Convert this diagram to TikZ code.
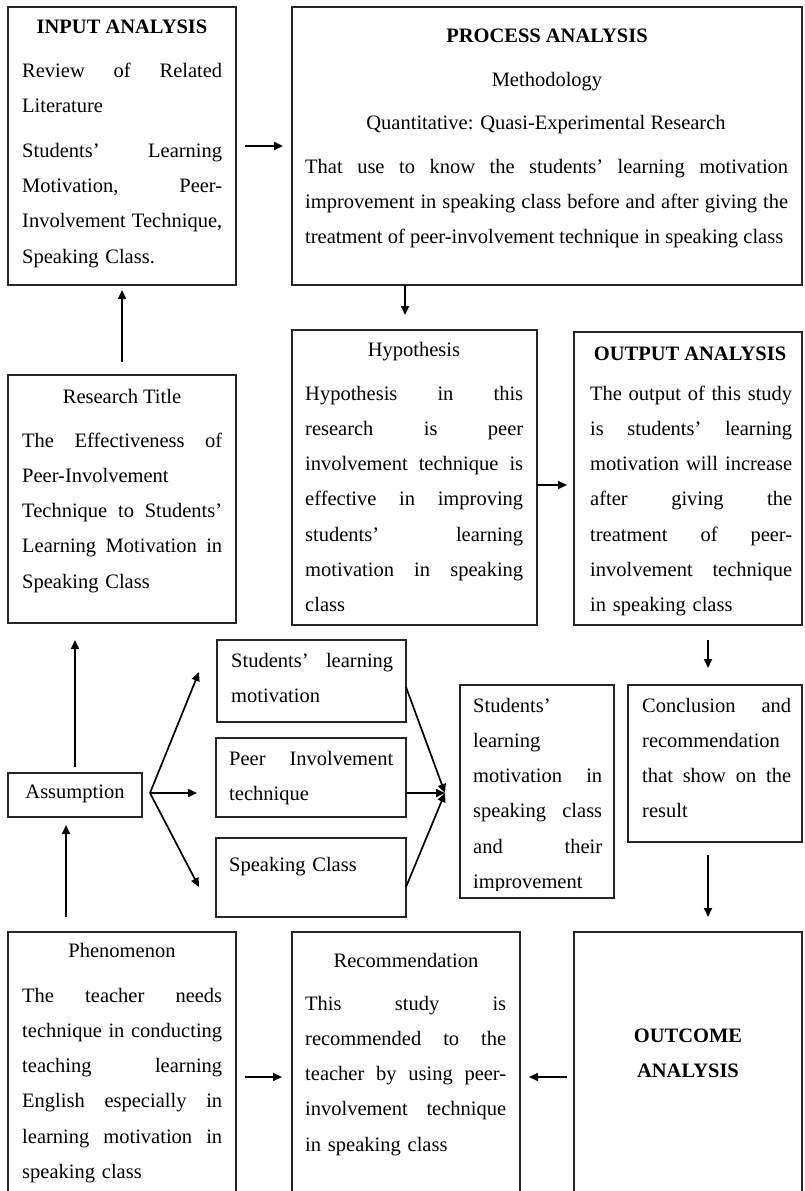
\documentclass[tikz,border=0pt]{standalone}
\usepackage{fontspec}
\setmainfont{Liberation Serif}
\usetikzlibrary{arrows.meta}
\newcommand{\jl}[1]{\leavevmode\hbox to \jw{\spaceskip=0.25em plus 1fil minus 0.08em\relax #1}\\}
\newcommand{\jw}{0pt}
\tikzset{
  box/.style={draw=black!85, line width=1.3pt, anchor=north west, inner sep=0pt, outer sep=0pt},
  arr/.style={line width=1.7pt, -{Triangle[length=9pt,width=8pt]}},
  ttl/.style={anchor=base, inner sep=0pt, font=\fontsize{20.5}{35.3}\selectfont\bfseries},
  sub/.style={anchor=base, inner sep=0pt, font=\fontsize{20.5}{35.3}\selectfont},
  body/.style={anchor=base west, inner sep=0pt, text width=#1, execute at begin node={\renewcommand{\jw}{#1}}, font=\fontsize{20.5}{35.3}\selectfont}
}
\begin{document}
\begin{tikzpicture}[x=1pt,y=-1pt]
\useasboundingbox (0,0) rectangle (805,1191);
\clip (0,0) rectangle (805,1191);
\fill[white] (0,0) rectangle (805,1191);
% boxes
\node[box, minimum width=228pt, minimum height=278pt] (input) at (8,7) {};
\node[box, minimum width=510pt, minimum height=278pt] (process) at (292,7) {};
\node[box, minimum width=228pt, minimum height=248pt] (rtitle) at (8,375) {};
\node[box, minimum width=245pt, minimum height=295pt] (hyp) at (292,330) {};
\node[box, minimum width=228pt, minimum height=293pt] (output) at (574,332) {};
\node[box, minimum width=134pt, minimum height=44pt] (assump) at (8,773) {};
\node[box, minimum width=189pt, minimum height=82pt] (slm) at (217,640) {};
\node[box, minimum width=190pt, minimum height=79pt] (pit) at (216,738) {};
\node[box, minimum width=190pt, minimum height=79pt] (sc) at (216,838) {};
\node[box, minimum width=154pt, minimum height=213pt] (slmi) at (460,685) {};
\node[box, minimum width=174pt, minimum height=157pt] (concl) at (628,685) {};
\node[box, minimum width=228pt, minimum height=280pt] (phen) at (8,932) {};
\node[box, minimum width=228pt, minimum height=280pt] (rec) at (292,932) {};
\node[box, minimum width=228pt, minimum height=280pt] (outcome) at (574,932) {};

% INPUT ANALYSIS
\node[ttl] (inT) at (122,33) {INPUT ANALYSIS};
\node[body=200pt] (inB) at (22,77) {\jl{Review of Related}Literature\\[9.7pt]
\jl{Students’ Learning}\jl{Motivation, Peer-}\jl{Involvement Technique,}Speaking Class.};

% PROCESS ANALYSIS
\node[ttl] (prT) at (547,42) {PROCESS ANALYSIS};
\node[sub] (prM) at (547,86) {Methodology};
\node[sub] (prQ) at (546,129) {Quantitative: Quasi-Experimental Research};
\node[body=483pt] (prB) at (305,173) {\jl{That use to know the students’ learning motivation}\jl{improvement in speaking class before and after giving the}\leavevmode\hbox to 478pt{\spaceskip=0.25em plus 1fil minus 0.08em\relax treatment of peer-involvement technique in speaking class}};

% Research Title
\node[sub] (rtT) at (122,403) {Research Title};
\node[body=200pt] (rtB) at (22,447) {\jl{The Effectiveness of}Peer-Involvement\\\jl{Technique to Students’}\jl{Learning Motivation in}Speaking Class};

% Hypothesis
\node[sub] (hyT) at (414,356) {Hypothesis};
\node[body=218pt] (hyB) at (305,400) {\jl{Hypothesis in this}\jl{research is peer}\jl{involvement technique is}\jl{effective in improving}\jl{students’ learning}\jl{motivation in speaking}class};

% Output
\node[ttl] (ouT) at (690,360) {OUTPUT ANALYSIS};
\begin{scope}
\clip (574,332) rectangle (802,615);
\node[body=202pt] (ouB) at (590,400) {\jl{The output of this study}\jl{is students’ learning}\jl{motivation will increase}\jl{after giving the}\jl{treatment of peer-}\jl{involvement technique}in speaking class};
\end{scope}

% Assumption and factors
\node[sub] (asT) at (75,798) {Assumption};
\node[body=162pt] (slmB) at (231,667) {\jl{Students’ learning}motivation};
\node[body=164pt] (pitB) at (229,765) {\jl{Peer Involvement}technique};
\node[body=164pt] (scB) at (229,871) {Speaking Class};

\begin{scope}
\clip (460,685) rectangle (614,890);
\node[body=129pt] (slmiB) at (473,712) {Students’\\learning\\\jl{motivation in}\jl{speaking class}\jl{and their}improvement};
\end{scope}

\node[body=149pt] (coB) at (642,712) {\jl{Conclusion and}recommendation\\\jl{that show on the}result};

% Bottom row
\node[sub] (phT) at (122,957) {Phenomenon};
\node[body=200pt] (phB) at (22,1002) {\jl{The teacher needs}\jl{technique in conducting}\jl{teaching learning}\jl{English especially in}\jl{learning motivation in}speaking class};
\node[sub] (reT) at (406,967) {Recommendation};
\node[body=201pt] (reB) at (305,1010) {\jl{This study is}\jl{recommended to the}\jl{teacher by using peer-}\jl{involvement technique}in speaking class};
\node[ttl] (ocT1) at (688,1042) {OUTCOME};
\node[ttl] (ocT2) at (688,1077) {ANALYSIS};

% connectors
\draw[arr, shorten <=9pt, shorten >=9pt] (input.east) -- (process.west);
\draw[arr, shorten <=13pt, shorten >=5pt] (rtitle.north) -- (input.south);
\draw[arr, shorten >=15pt] ([xshift=-142pt]process.south) -- ([xshift=-9.5pt]hyp.north);
\draw[arr, shorten >=7pt] ([yshift=-7.5pt]hyp.east) -- ([yshift=-6.5pt]output.west);
\draw[arr, shorten <=15pt, shorten >=17pt] ([xshift=20pt]output.south) -- ([xshift=-7pt]concl.north);
\draw[arr, shorten <=13pt, shorten >=15pt] ([xshift=-7pt]concl.south) -- ([xshift=20pt]outcome.north);
\draw[arr, shorten <=7pt, shorten >=9pt] ([yshift=-5pt]outcome.west) -- ([yshift=-5pt]rec.east);
\draw[arr, shorten <=9pt, shorten >=10pt] ([yshift=-5pt]phen.east) -- ([yshift=-5pt]rec.west);
\draw[arr, shorten <=15pt, shorten >=8pt] ([xshift=-56pt]phen.north) -- ([xshift=-9pt]assump.south);
\draw[arr, shorten <=6pt, shorten >=17pt] (assump.north) -- ([xshift=-47pt]rtitle.south);
% fan out
\draw[arr] ([xshift=8pt,yshift=2pt]assump.east) -- ([xshift=-18pt,yshift=9pt]slm.west);
\draw[arr] ([xshift=8pt,yshift=2pt]assump.east) -- ([xshift=-19pt,yshift=-15.5pt]pit.west);
\draw[arr] ([xshift=8pt,yshift=2pt]assump.east) -- ([xshift=-17pt,yshift=-9.5pt]sc.west);
% converge
\draw[arr] ([yshift=-6pt]slm.east) -- ([xshift=-15pt,yshift=-1.5pt]slmi.west);
\draw[arr] ([yshift=-15.5pt]pit.east) -- ([xshift=-15pt,yshift=-1.5pt]slmi.west);
\draw[arr] ([yshift=-9.5pt]sc.east) -- ([xshift=-15pt,yshift=-1.5pt]slmi.west);
\end{tikzpicture}
\end{document}
